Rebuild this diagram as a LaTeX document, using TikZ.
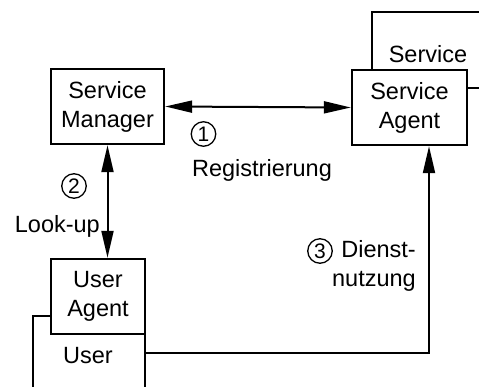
\documentclass[tikz,border=0pt]{standalone}
\usepackage{fontspec}
\setmainfont{Liberation Sans}
\usetikzlibrary{arrows.meta}
\begin{document}
\begin{tikzpicture}[x=1pt,y=-1pt,
  box/.style={draw, line width=2.4pt, fill=white, align=center, inner sep=0pt, font=\fontsize{23.5}{29}\selectfont},
  lbl/.style={inner sep=0pt, font=\fontsize{23.5}{29}\selectfont},
  circ/.style={draw, circle, line width=1.3pt, minimum size=24.5pt, inner sep=0pt, font=\fontsize{21}{21}\selectfont},
  tip/.tip={Triangle[length=27pt,width=12pt]},
  conn/.style={line width=2pt, tip-tip},
  conn1/.style={line width=2pt, -tip},
]
\useasboundingbox (0,0) rectangle (479,387);
\clip (0,0) rectangle (479,387);
% background boxes
\node[box, minimum width=128pt, minimum height=76pt] (sbg) at (436,50) {};
\node[lbl, anchor=base] (stxt) at (428,63) {Service};
\node[box, minimum width=112pt, minimum height=84pt] (ubg) at (89,358) {};
\node[lbl, anchor=base] (utxt) at (88,363) {User};
% main boxes
\node[box, minimum width=113pt, minimum height=75pt] (sm) at (107.5,106.5) {Service\\Manager};
\node[box, minimum width=115pt, minimum height=75pt] (sa) at (409.5,107.5) {Service\\Agent};
\node[box, minimum width=94pt, minimum height=75pt] (ua) at (98,296.5) {User\\Agent};
% connectors
\draw[conn] (sm.east) -- (sa.west);
\draw[conn] (sm.south) -- (sm.south |- ua.north);
\coordinate (ue) at (145,353);
\coordinate (turn) at (429,353);
\draw[conn1] (ue) -- (turn) -- (turn |- sa.south);
% labels
\node[circ] (n1) at (203.5,134) {1};
\node[lbl, anchor=base] (reg) at (262,177) {Registrierung};
\node[circ] (n2) at (74,186) {2};
\node[lbl, anchor=base east] (look) at (100,233) {Look-up};
\node[circ] (n3) at (320,251) {3};
\node[lbl, align=right, anchor=base east] (dn) at (416,287) {Dienst-\\nutzung};
\end{tikzpicture}
\end{document}
